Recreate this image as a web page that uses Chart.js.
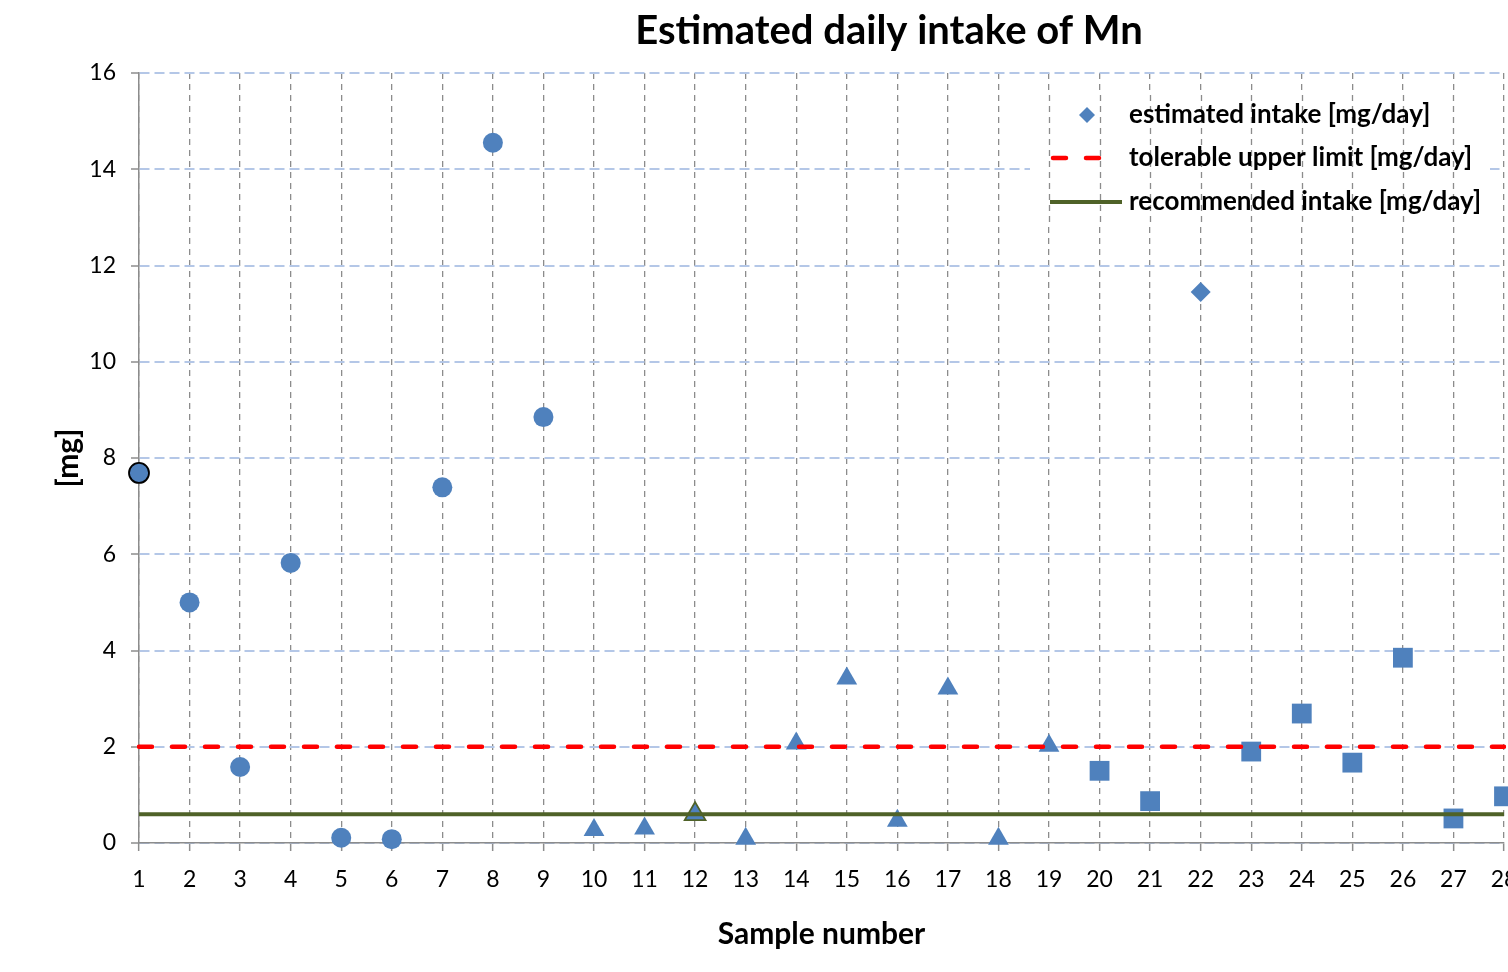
<!DOCTYPE html>
<html><head><meta charset="utf-8">
<script src="https://cdn.jsdelivr.net/npm/chart.js@4.4.0/dist/chart.umd.min.js"></script>
<style>html,body{margin:0;padding:0;background:#fff;overflow:hidden}</style>
</head><body>
<canvas id="c" width="1508" height="972"></canvas>
<script>
// ---------- data ----------
const chartTitle = 'Estimated daily intake of Mn';
const xAxisTitle = 'Sample number';
const yAxisTitle = '[mg]';
const sampleNumbers = ['1','2','3','4','5','6','7','8','9','10','11','12','13','14','15','16','17','18','19','20','21','22','23','24','25','26','27','28'];
const estimatedIntake = [7.69, 5.00, 1.58, 5.82, 0.11, 0.08, 7.39, 14.55, 8.85, 0.27, 0.30, 0.60, 0.09, 2.07, 3.42, 0.46, 3.21, 0.09, 2.02, 1.50, 0.87, 11.45, 1.90, 2.69, 1.67, 3.85, 0.51, 0.97];
const tolerableUpperLimit = 2.0;
const recommendedIntake = 0.6;
const yTicks = [0, 2, 4, 6, 8, 10, 12, 14, 16];
const seriesLabels = ['estimated intake [mg/day]', 'tolerable upper limit [mg/day]', 'recommended intake [mg/day]'];

// ---------- styles ----------
const FONT = 'Lato, "Open Sans", sans-serif';
const BLUE = '#4F81BD', RED = '#FF0000', GREEN = '#4F6228';
const GRID_X = '#8C8C8C', GRID_Y = '#B4C7E7', AXIS = '#8C8C8C';
const radiusByShape = { circle: 10, triangle: 12, rect: 14, rectRot: 10 };
const markerShapes = sampleNumbers.map((s, i) => i < 9 ? 'circle' : i < 19 ? 'triangle' : (i === 21 ? 'rectRot' : 'rect'));
const markerRadii = markerShapes.map(s => radiusByShape[s]);
const markerBorderColors = markerShapes.map((s, i) => i === 0 ? '#000000' : i === 11 ? GREEN : BLUE);
const markerBorderWidths = markerShapes.map((s, i) => (i === 0 || i === 11) ? 1.8 : 0);

const legendBox = { x: 1030, y: 90, w: 460, h: 135 };

const overlayPlugin = {
  id: 'overlay',
  beforeDatasetsDraw(chart) {
    const { ctx, chartArea } = chart;
    const xs = chart.scales.x;
    ctx.save();
    ctx.beginPath();
    ctx.rect(legendBox.x, legendBox.y, legendBox.w, legendBox.h);
    ctx.clip();
    ctx.fillStyle = '#ffffff';
    ctx.fillRect(legendBox.x, legendBox.y, legendBox.w, legendBox.h);
    ctx.strokeStyle = GRID_X;
    ctx.lineWidth = 1.3;
    ctx.setLineDash([6, 5]);
    xs.ticks.forEach((t, i) => {
      const px = Math.round(xs.getPixelForTick(i)) + 0.5;
      ctx.beginPath();
      ctx.moveTo(px, chartArea.top);
      ctx.lineTo(px, chartArea.bottom);
      ctx.stroke();
    });
    ctx.restore();
  },
  afterDraw(chart) {
    const { ctx } = chart;
    ctx.save();
    // title
    ctx.fillStyle = '#000';
    ctx.font = 'bold 40px ' + FONT;
    ctx.textAlign = 'center';
    ctx.textBaseline = 'middle';
    ctx.fillText(chartTitle, 889, 31);
    // legend
    const rows = [115, 158, 202];
    ctx.font = 'bold 26px ' + FONT;
    ctx.textAlign = 'left';
    rows.forEach((y, i) => {
      ctx.save();
      if (i === 0) {
        ctx.fillStyle = BLUE;
        ctx.beginPath();
        ctx.moveTo(1087, y - 8); ctx.lineTo(1095, y); ctx.lineTo(1087, y + 8); ctx.lineTo(1079, y);
        ctx.closePath(); ctx.fill();
      } else if (i === 1) {
        ctx.strokeStyle = RED; ctx.lineWidth = 4.5; ctx.lineCap = 'round';
        ctx.setLineDash([13, 20]);
        ctx.beginPath(); ctx.moveTo(1053, y); ctx.lineTo(1103, y); ctx.stroke();
      } else {
        ctx.strokeStyle = GREEN; ctx.lineWidth = 4;
        ctx.beginPath(); ctx.moveTo(1050, y); ctx.lineTo(1122, y); ctx.stroke();
      }
      ctx.restore();
      ctx.fillStyle = '#000';
      ctx.fillText(chart.data.datasets[i].label, 1129, y);
    });
    ctx.restore();
  }
};

new Chart(document.getElementById('c'), {
  type: 'line',
  data: {
    labels: sampleNumbers,
    datasets: [
      {
        label: seriesLabels[0],
        data: estimatedIntake,
        showLine: false,
        pointStyle: markerShapes,
        pointRadius: markerRadii,
        pointBackgroundColor: BLUE,
        pointBorderColor: markerBorderColors,
        pointBorderWidth: markerBorderWidths,
        clip: false,
        order: 3
      },
      {
        label: seriesLabels[1],
        data: [{ x: sampleNumbers[0], y: tolerableUpperLimit }, { x: sampleNumbers[sampleNumbers.length - 1], y: tolerableUpperLimit }],
        borderColor: RED,
        borderWidth: 4.5,
        borderDash: [13, 20],
        borderCapStyle: 'round',
        pointRadius: 0,
        order: 2
      },
      {
        label: seriesLabels[2],
        data: [{ x: sampleNumbers[0], y: recommendedIntake }, { x: sampleNumbers[sampleNumbers.length - 1], y: recommendedIntake }],
        borderColor: GREEN,
        borderWidth: 4,
        pointRadius: 0,
        order: 1
      }
    ]
  },
  options: {
    responsive: false,
    animation: false,
    devicePixelRatio: 1,
    layout: { autoPadding: false, padding: { top: 73, left: 0, right: 4, bottom: 20 } },
    plugins: { legend: { display: false }, tooltip: { enabled: false }, title: { display: false } },
    scales: {
      x: {
        type: 'category',
        offset: false,
        grid: { color: GRID_X, lineWidth: 1.3, tickLength: 8, tickColor: AXIS, tickWidth: 1.5 },
        border: { display: true, color: AXIS, width: 1.5, dash: [6, 5] },
        ticks: { color: '#000', font: { family: FONT, size: 23 }, padding: 15, maxRotation: 0, autoSkip: false },
        title: { display: true, text: xAxisTitle, color: '#000', font: { family: FONT, size: 30, weight: 'bold' }, padding: { top: 0, bottom: 0 } },
        afterFit(s) { s.paddingLeft = 0; s.paddingRight = 0; s.height = 109; }
      },
      y: {
        min: 0, max: 16,
        grid: { color: GRID_Y, lineWidth: 2, tickLength: 8, tickColor: AXIS, tickWidth: 1.5 },
        border: { display: true, color: AXIS, width: 1.5, dash: [10, 5] },
        ticks: { color: '#000', font: { family: FONT, size: 23 }, padding: 15 },
        afterBuildTicks(s) { s.ticks = yTicks.map(v => ({ value: v })); },
        title: { display: true, text: yAxisTitle, color: '#000', font: { family: FONT, size: 30, weight: 'bold' }, padding: { top: 50, bottom: 0 } },
        afterFit(s) { s.width = 139; }
      }
    }
  },
  plugins: [overlayPlugin]
});
</script>
</body></html>
